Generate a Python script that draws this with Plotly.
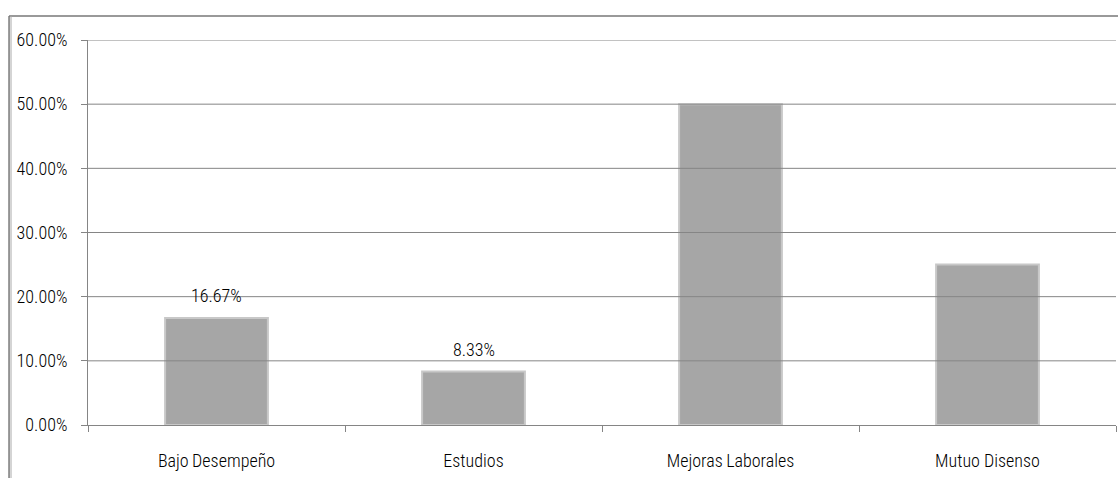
import plotly.graph_objects as go

categories = ["Bajo\u2009Desempeño", "Estudios", "Mejoras\u2009Laborales", "Mutuo Disenso"]
values = [16.67, 8.33, 50.0, 25.0]
labels = ["16.67%", "8.33%", None, None]
tick_vals = [0, 10, 20, 30, 40, 50, 60]
tick_text = ["0.00%", "10.00%", "20.00%", "30.00%", "40.00%", "50.00%", "60.00%"]

FONT = "Roboto Condensed, Arial Narrow, sans-serif"
W = 300

fig = go.Figure()
fig.add_trace(go.Bar(
    x=categories, y=values,
    marker=dict(color="#a6a6a6", line=dict(color="#c8c8c8", width=2)),
    width=0.4,
    hoverinfo="skip",
))

for c, v, t in zip(categories, values, labels):
    if t:
        fig.add_annotation(x=c, y=v, text=t, showarrow=False, yanchor="bottom",
                           yshift=10, font=dict(family=FONT, size=18, color="#000", weight=W))

for tv in tick_vals[1:]:
    fig.add_shape(type="line", xref="paper", yref="y", x0=0, x1=1, y0=tv, y1=tv,
                  line=dict(color="#858585", width=1), layer="above")

fig.add_shape(type="line", xref="paper", yref="paper", x0=-0.0768, x1=1.01, y0=1.0623, y1=1.0623,
              line=dict(color="#777", width=1.5))
fig.add_shape(type="line", xref="paper", yref="paper", x0=-0.0768, x1=-0.0768, y0=-0.2, y1=1.0623,
              line=dict(color="#777", width=1.5))
fig.add_shape(type="line", xref="paper", yref="paper", x0=-0.0749, x1=-0.0749, y0=-0.2, y1=1.0623,
              line=dict(color="#aaa", width=1))

fig.update_layout(
    width=1118, height=478,
    margin=dict(l=88, r=2, t=40, b=53),
    paper_bgcolor="white", plot_bgcolor="white",
    showlegend=False,
    font=dict(family=FONT, size=18, color="#000", weight=W),
    xaxis=dict(
        showgrid=False, showline=True, linecolor="#858585", linewidth=1,
        ticks="outside", tickson="boundaries", ticklen=6, tickcolor="#858585",
        tickfont=dict(family=FONT, size=18, color="#000", weight=W),
        ticklabelstandoff=19,
    ),
    yaxis=dict(
        range=[0, 60], tickvals=tick_vals, ticktext=tick_text,
        showgrid=False, showline=True, linecolor="#858585", linewidth=1,
        ticks="outside", ticklen=6, tickcolor="#858585",
        tickfont=dict(family=FONT, size=18, color="#000", weight=W), zeroline=False,
        ticklabelstandoff=10,
    ),
    bargap=0.6,
)

fig.write_html("out.html")
